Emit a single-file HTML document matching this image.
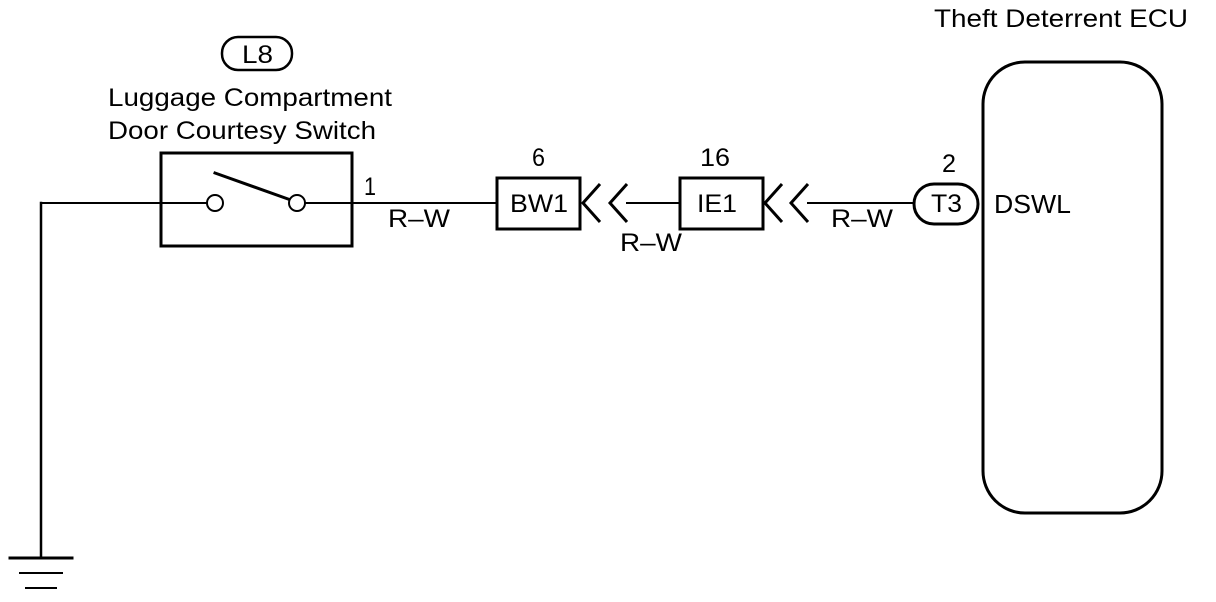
<!DOCTYPE html>
<html><head><style>
body{margin:0;background:#fff}
svg{display:block}
text{font-family:"Liberation Sans",Arial,sans-serif;fill:#000}
</style></head><body>
<svg width="1216" height="602" viewBox="0 0 1216 602" xmlns="http://www.w3.org/2000/svg">
<g stroke="#000" fill="none" stroke-linecap="square">
<line x1="41" y1="203" x2="41" y2="558" stroke-width="2.5"/>
<line x1="10" y1="558" x2="72" y2="558" stroke-width="3"/>
<line x1="20" y1="573" x2="62" y2="573" stroke-width="2"/>
<line x1="26" y1="588" x2="56" y2="588" stroke-width="2"/>
<line x1="41" y1="203" x2="207" y2="203" stroke-width="2"/>
<line x1="305" y1="203" x2="497" y2="203" stroke-width="2"/>
<line x1="627" y1="203" x2="679" y2="203" stroke-width="2"/>
<line x1="808" y1="203" x2="913" y2="203" stroke-width="2"/>
<rect x="161" y="153" width="191" height="93" stroke-width="3"/>
<circle cx="215" cy="203" r="8" stroke-width="2" fill="#fff"/>
<circle cx="297" cy="203" r="8" stroke-width="2" fill="#fff"/>
<line x1="215" y1="173" x2="288" y2="199" stroke-width="3"/>
<rect x="497" y="178" width="83" height="51" stroke-width="3"/>
<polyline points="600,184 583,203 600,222" stroke-width="3" stroke-linecap="butt"/>
<polyline points="627,184 610,203 627,222" stroke-width="3" stroke-linecap="butt"/>
<rect x="680" y="178" width="83" height="51" stroke-width="3"/>
<polyline points="782,184 765,203 782,222" stroke-width="3" stroke-linecap="butt"/>
<polyline points="808,184 791,203 808,222" stroke-width="3" stroke-linecap="butt"/>
<rect x="914" y="184" width="64" height="40" rx="20" stroke-width="3"/>
<rect x="983" y="62" width="179" height="451" rx="42" stroke-width="3"/>
<rect x="222" y="37" width="70" height="33" rx="16" stroke-width="2.5"/>
</g>
<g font-size="25">
<text x="242" y="63" textLength="31" lengthAdjust="spacingAndGlyphs">L8</text>
<text x="108" y="106" textLength="284" lengthAdjust="spacingAndGlyphs">Luggage Compartment</text>
<text x="108" y="139" textLength="268" lengthAdjust="spacingAndGlyphs">Door Courtesy Switch</text>
<text x="364" y="195" textLength="12" lengthAdjust="spacingAndGlyphs">1</text>
<text x="388" y="227" textLength="62" lengthAdjust="spacingAndGlyphs">R–W</text>
<text x="532" y="166" textLength="13" lengthAdjust="spacingAndGlyphs">6</text>
<text x="510" y="212" textLength="58" lengthAdjust="spacingAndGlyphs">BW1</text>
<text x="620" y="251" textLength="62" lengthAdjust="spacingAndGlyphs">R–W</text>
<text x="700" y="166" textLength="30" lengthAdjust="spacingAndGlyphs">16</text>
<text x="697" y="212" textLength="40" lengthAdjust="spacingAndGlyphs">IE1</text>
<text x="831" y="227" textLength="62" lengthAdjust="spacingAndGlyphs">R–W</text>
<text x="942" y="172" textLength="14" lengthAdjust="spacingAndGlyphs">2</text>
<text x="931" y="212" textLength="31" lengthAdjust="spacingAndGlyphs">T3</text>
<text x="994" y="213" font-size="26" textLength="77" lengthAdjust="spacingAndGlyphs">DSWL</text>
<text x="934" y="27" textLength="254" lengthAdjust="spacingAndGlyphs">Theft Deterrent ECU</text>
</g>
</svg>
</body></html>
